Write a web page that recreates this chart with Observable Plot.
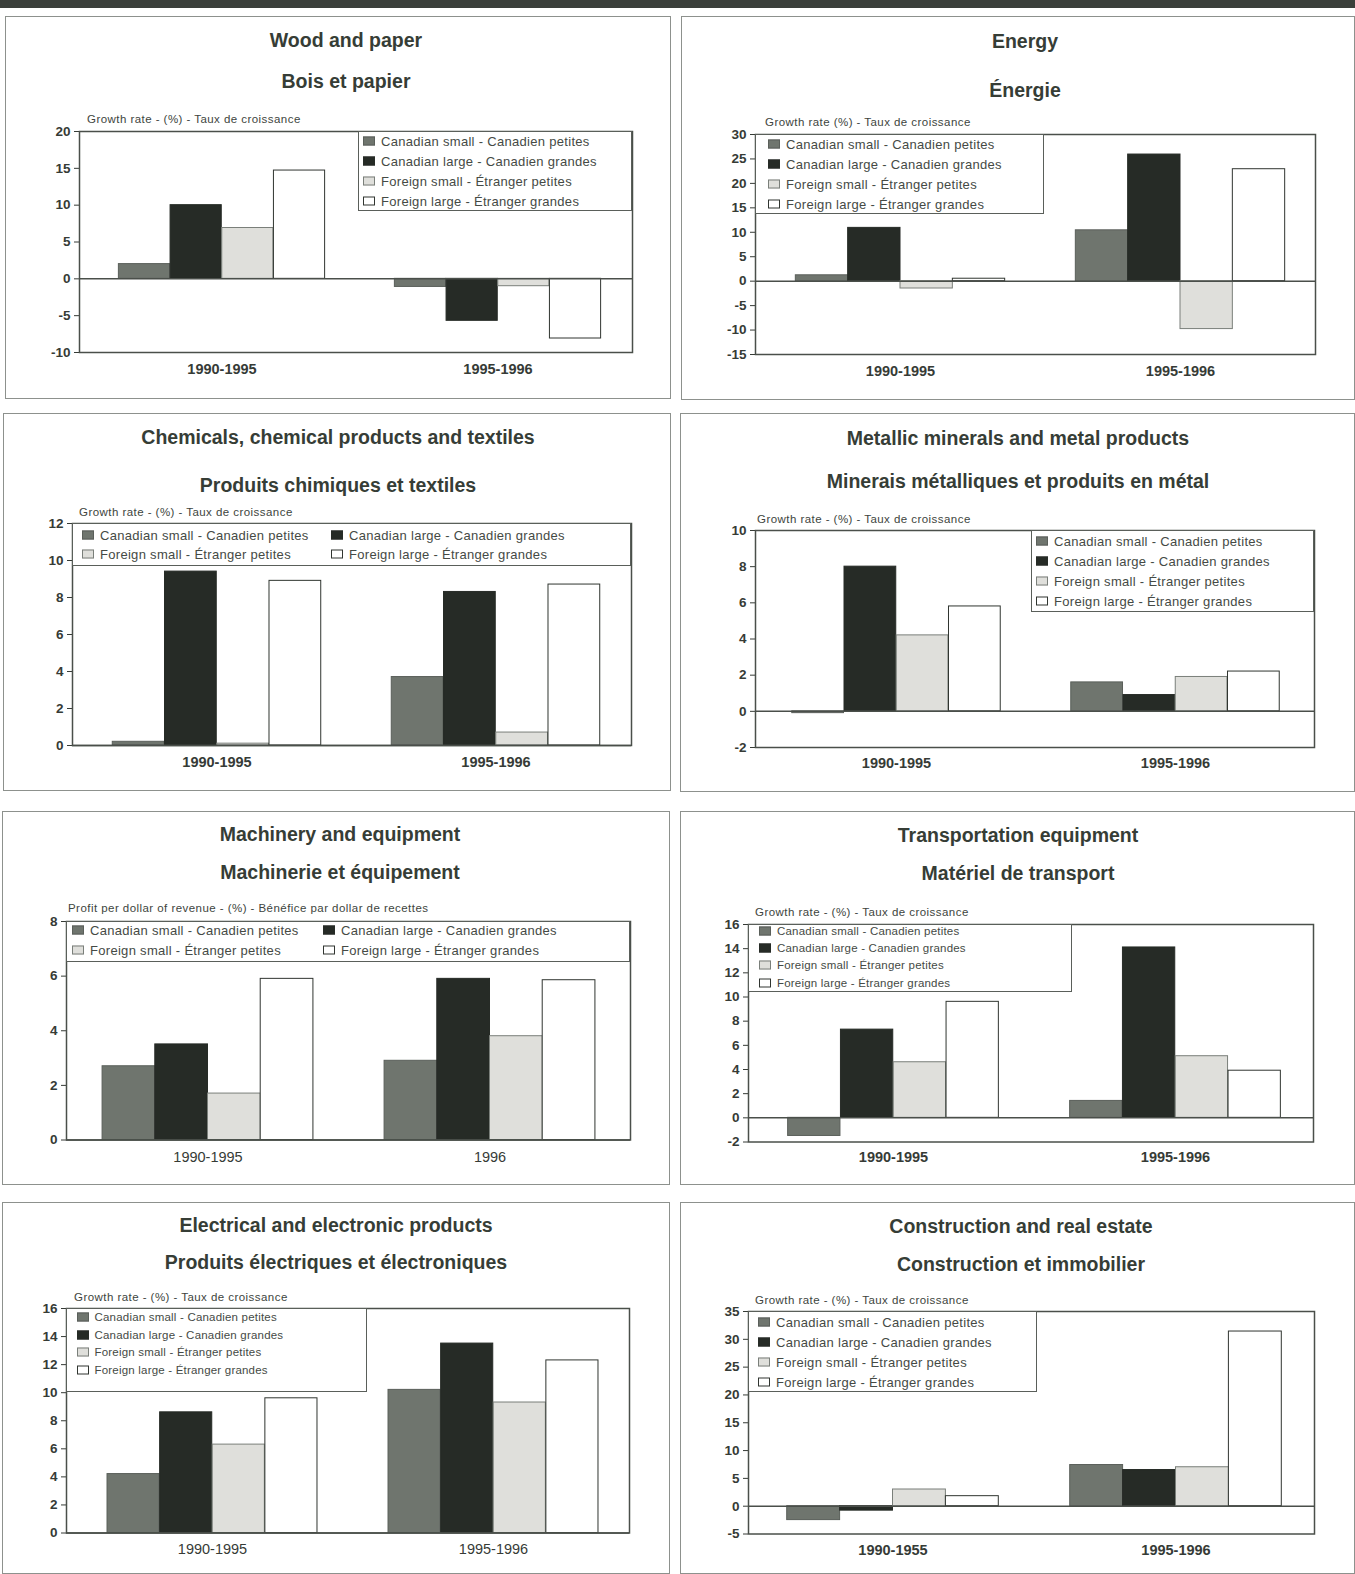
<!DOCTYPE html>
<html>
<head>
<meta charset="utf-8">
<script src="https://cdn.jsdelivr.net/npm/d3@7"></script>
<script src="https://cdn.jsdelivr.net/npm/@observablehq/plot@0.6"></script>
<style>
  body { margin: 0; background: #fff; }
  #page { position: relative; width: 1355px; height: 1574px; overflow: hidden;
          font-family: "Liberation Sans", Arial, sans-serif; background: #fff; }
  .band { position: absolute; left: 0; top: 0; width: 1355px; height: 8px; background: #3b403b; }
  .panel { position: absolute; border: 1.5px solid #8d918d; box-sizing: border-box; }
  .title { position: absolute; white-space: nowrap; font-weight: bold; font-size: 19.5px;
           color: #363d36; transform: translate(-50%, -50%); }
  .ylab { position: absolute; white-space: nowrap; font-size: 11.5px; letter-spacing: 0.45px;
          color: #404540; transform: translateY(-50%); }
  .legend { position: absolute; border: 1.5px solid #5a5f5a; background: #fff; box-sizing: border-box; }
  .key { position: absolute; white-space: nowrap; color: #454a45; transform: translateY(-50%); }
  .sw { position: absolute; box-sizing: border-box; width: 12px; height: 9px; transform: translateY(-50%); }
</style>
</head>
<body>
<div id="page"><div class="band"></div></div>
<script>
// Series shown in every panel
const seriesNames = [
  "Canadian small - Canadien petites",
  "Canadian large - Canadien grandes",
  "Foreign small - Étranger petites",
  "Foreign large - Étranger grandes"
];

// Period labels on the x axis
const periodsGrowth = ["1990-1995", "1995-1996"];
const periodsProfit = ["1990-1995", "1996"];
const periodsConstruction = ["1990-1955", "1995-1996"];

// Values: one row per series, one column per period (%)
const woodPaperValues    = [[2.0, -1.1], [10.0, -5.7], [6.9, -1.0], [14.7, -8.1]];
const energyValues       = [[1.2, 10.4], [10.9, 25.9], [-1.5, -9.8], [0.5, 22.9]];
const chemicalsValues    = [[0.2, 3.7], [9.4, 8.3], [0.1, 0.7], [8.9, 8.7]];
const metalsValues       = [[-0.1, 1.6], [8.0, 0.9], [4.2, 1.9], [5.8, 2.2]];
const machineryValues    = [[2.7, 2.9], [3.5, 5.9], [1.7, 3.8], [5.9, 5.85]];
const transportValues    = [[-1.5, 1.4], [7.3, 14.1], [4.6, 5.1], [9.6, 3.9]];
const electricalValues   = [[4.2, 10.2], [8.6, 13.5], [6.3, 9.3], [9.6, 12.3]];
const constructionValues = [[-2.5, 7.4], [-0.8, 6.5], [3.0, 7.0], [1.8, 31.4]];

// Y tick values
const woodTicks = [-10, -5, 0, 5, 10, 15, 20];
const energyTicks = [-15, -10, -5, 0, 5, 10, 15, 20, 25, 30];
const chemicalsTicks = [0, 2, 4, 6, 8, 10, 12];
const metalsTicks = [-2, 0, 2, 4, 6, 8, 10];
const machineryTicks = [0, 2, 4, 6, 8];
const transportTicks = [-2, 0, 2, 4, 6, 8, 10, 12, 14, 16];
const electricalTicks = [0, 2, 4, 6, 8, 10, 12, 14, 16];
const constructionTicks = [-5, 0, 5, 10, 15, 20, 25, 30, 35];

// Panel titles (English / French) and y-axis captions
const titlesEnglish = [
  "Wood and paper", "Energy",
  "Chemicals, chemical products and textiles", "Metallic minerals and metal products",
  "Machinery and equipment", "Transportation equipment",
  "Electrical and electronic products", "Construction and real estate"
];
const titlesFrench = [
  "Bois et papier", "Énergie",
  "Produits chimiques et textiles", "Minerais métalliques et produits en métal",
  "Machinerie et équipement", "Matériel de transport",
  "Produits électriques et électroniques", "Construction et immobilier"
];
const axisCaptions = [
  "Growth rate - (%) - Taux de croissance",
  "Growth rate (%) - Taux de croissance",
  "Growth rate - (%) - Taux de croissance",
  "Growth rate - (%) - Taux de croissance",
  "Profit per dollar of revenue - (%) - Bénéfice par dollar de recettes",
  "Growth rate - (%) - Taux de croissance",
  "Growth rate - (%) - Taux de croissance",
  "Growth rate - (%) - Taux de croissance"
];

// Bar and swatch styling per series
const fills = ["#6f756e", "#262b26", "#dfdfdb", "#ffffff"];
const strokes = ["#5a5f5a", "#262b26", "#7a7f7a", "#303530"];

// Page layout of each panel (dx nudges the bar groups inside their bands)
const layouts = [
  { box: [5, 16, 671, 399], frame: [79, 130.5, 632, 351.5], dx: 3.5, cx: 346, t1: 40, t2: 81, cap: [87, 118.5], xl: 373, xBold: true,
    legend: [358, 130.5, 632, 211], keys: [[363, 140.5], [363, 160.6], [363, 180.7], [363, 200.7]], kf: 13 },
  { box: [681, 16, 1355, 400], frame: [755, 133.5, 1315, 353.5], dx: 5, cx: 1025, t1: 41, t2: 89.5, cap: [765, 121.5], xl: 375, xBold: true,
    legend: [755, 133.5, 1044, 214], keys: [[768, 143.5], [768, 163.6], [768, 183.7], [768, 203.7]], kf: 13 },
  { box: [3, 413, 671, 791], frame: [72, 523, 631, 745], dx: 4, cx: 338, t1: 436.5, t2: 485, cap: [79, 512], xl: 766.5, xBold: true,
    legend: [72, 523, 631, 566], keys: [[82, 535], [331, 535], [82, 554], [331, 554]], kf: 13 },
  { box: [680, 413, 1355, 792], frame: [755, 530, 1314, 747], dx: 0.5, cx: 1018, t1: 437.5, t2: 481, cap: [757, 519], xl: 767.5, xBold: true,
    legend: [1031, 530, 1314, 612], keys: [[1036, 541], [1036, 561], [1036, 581], [1036, 601]], kf: 13 },
  { box: [2, 811, 670, 1185], frame: [66, 920.5, 630, 1139], dx: 0.5, cx: 340, t1: 834, t2: 872, cap: [68, 907.5], xl: 1160.5, xBold: false,
    legend: [66, 920.5, 630, 961.5], keys: [[72, 929.5], [323, 929.5], [72, 949.5], [323, 949.5]], kf: 13 },
  { box: [680, 811, 1355, 1185], frame: [748, 923.5, 1313, 1141], dx: 3, cx: 1018, t1: 835, t2: 873, cap: [755, 911.5], xl: 1161, xBold: true,
    legend: [748, 923.5, 1072, 992], keys: [[759, 930.5], [759, 947.5], [759, 964.6], [759, 982.6]], kf: 11.5 },
  { box: [2, 1202, 670, 1574], frame: [66, 1308, 629, 1532.5], dx: 4.5, cx: 336, t1: 1224.5, t2: 1261.5, cap: [74, 1297], xl: 1553.5, xBold: false,
    legend: [66, 1308, 367, 1392], keys: [[76.5, 1317], [76.5, 1335], [76.5, 1352], [76.5, 1370]], kf: 11.5 },
  { box: [680, 1202, 1355, 1574], frame: [748, 1311, 1314, 1533.5], dx: 3, cx: 1021, t1: 1225.5, t2: 1263.5, cap: [755, 1300], xl: 1554, xBold: true,
    legend: [748, 1311, 1037, 1392], keys: [[758, 1322], [758, 1342], [758, 1362], [758, 1382]], kf: 13 }
];

const panelValues = [woodPaperValues, energyValues, chemicalsValues, metalsValues,
                     machineryValues, transportValues, electricalValues, constructionValues];
const panelPeriods = [periodsGrowth, periodsGrowth, periodsGrowth, periodsGrowth,
                      periodsProfit, periodsGrowth, periodsGrowth, periodsConstruction];
const panelTicks = [woodTicks, energyTicks, chemicalsTicks, metalsTicks,
                    machineryTicks, transportTicks, electricalTicks, constructionTicks];

const page = document.getElementById("page");

function place(el, x, y) {
  el.style.left = x + "px";
  el.style.top = y + "px";
  page.appendChild(el);
  return el;
}

function div(cls, text) {
  const d = document.createElement("div");
  d.className = cls;
  if (text != null) d.textContent = text;
  return d;
}

layouts.forEach((L, p) => {
  // Panel border
  const box = div("panel");
  box.style.width = (L.box[2] - L.box[0]) + "px";
  box.style.height = (L.box[3] - L.box[1]) + "px";
  place(box, L.box[0], L.box[1]);

  // Titles
  place(div("title", titlesEnglish[p]), L.cx, L.t1);
  place(div("title", titlesFrench[p]), L.cx, L.t2);

  // Chart
  const periods = panelPeriods[p];
  const values = panelValues[p];
  const ticks = panelTicks[p];
  const rows = periods.flatMap((period, j) =>
    values.map((v, i) => ({ period, index: i, series: seriesNames[i], value: v[j] })));

  const [fl, ft, fr, fb] = L.frame;
  const ml = 52, mr = 6, mt = 6, mb = 38;
  const plotW = fr - fl, plotH = fb - ft;
  const band = plotW / periods.length;
  const barW = band / 5.35;

  const bars = seriesNames.map((s, i) => {
    const insetLeft = band / 2 - 2 * barW + i * barW;
    const insetRight = band - insetLeft - barW;
    return Plot.barY(rows.filter(r => r.index === i), {
      x: "period", y: "value", dx: L.dx,
      fill: fills[i], stroke: strokes[i], strokeWidth: 1,
      insetLeft, insetRight
    });
  });

  const svg = Plot.plot({
    width: plotW + ml + mr,
    height: plotH + mt + mb,
    marginLeft: ml, marginRight: mr, marginTop: mt, marginBottom: mb,
    style: {
      fontFamily: "Liberation Sans, Arial, sans-serif",
      fontSize: "13.5px", fontWeight: "bold", color: "#363b36",
      background: "transparent", overflow: "visible"
    },
    x: { type: "band", domain: periods, padding: 0, axis: null },
    y: {
      domain: [ticks[0], ticks[ticks.length - 1]], ticks,
      tickFormat: d => `${d}`, tickSize: 5, tickPadding: 4, label: null
    },
    marks: [
      ...bars,
      Plot.ruleY([0], { stroke: "#4a4f4a", strokeWidth: 1.5 }),
      Plot.frame({ stroke: "#4a4f4a", strokeWidth: 1.5 }),
      Plot.text(periods, {
        x: d => d, frameAnchor: "bottom", dy: L.xl - fb, dx: L.dx,
        fontSize: 14.5, fontWeight: L.xBold ? "bold" : "normal", fill: "#363b36"
      })
    ]
  });
  svg.style.position = "absolute";
  place(svg, fl - ml, ft - mt);

  // Axis caption
  place(div("ylab", axisCaptions[p]), L.cap[0], L.cap[1]);

  // Legend box
  const lg = div("legend");
  lg.style.width = (L.legend[2] - L.legend[0]) + "px";
  lg.style.height = (L.legend[3] - L.legend[1]) + "px";
  place(lg, L.legend[0], L.legend[1]);
  seriesNames.forEach((s, i) => {
    const [kx, ky] = L.keys[i];
    const sw = div("sw");
    sw.style.background = fills[i];
    sw.style.border = "1px solid " + strokes[i];
    place(sw, kx, ky);
    const t = div("key", s);
    t.style.fontSize = L.kf + "px";
    t.style.letterSpacing = L.kf > 12 ? "0.3px" : "0.2px";
    place(t, kx + 18, ky);
  });
});
</script>
</body>
</html>
